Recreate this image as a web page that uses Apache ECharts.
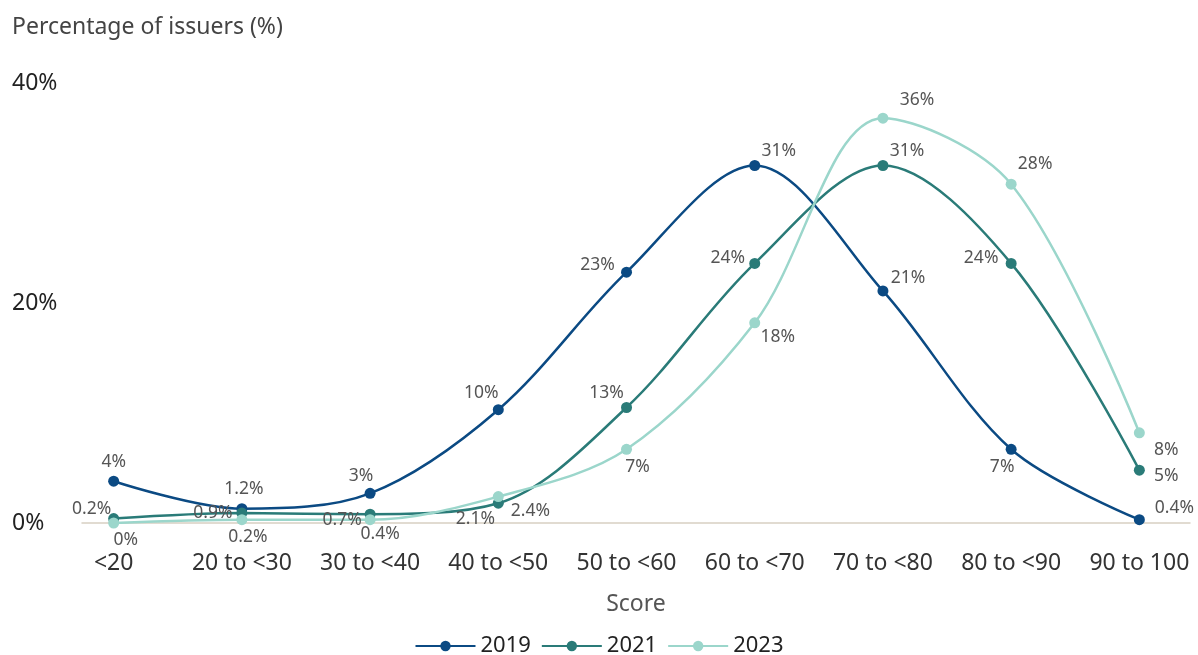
<!DOCTYPE html>
<html>
<head>
<meta charset="utf-8">
<script src="https://cdn.jsdelivr.net/npm/echarts@6/dist/echarts.min.js"></script>
<style>html,body{margin:0;padding:0;background:#fff}#c{width:1198px;height:655px}</style>
</head>
<body>
<div id="c"></div>
<script>
const categories = ['<20', '20 to <30', '30 to <40', '40 to <50', '50 to <60', '60 to <70', '70 to <80', '80 to <90', '90 to 100'];
const years = ['2019', '2021', '2023'];
// plotted values (% of issuers), as drawn
const values2019 = [3.8, 1.3, 2.7, 10.3, 22.8, 32.5, 21.1, 6.7, 0.3];
const values2021 = [0.4, 0.9, 0.8, 1.8, 10.5, 23.6, 32.5, 23.6, 4.8];
const values2023 = [0.0, 0.3, 0.3, 2.4, 6.7, 18.2, 36.8, 30.8, 8.2];
// data label texts as printed
const labels2019 = ['4%', '1.2%', '3%', '10%', '23%', '31%', '21%', '7%', '0.4%'];
const labels2021 = ['0.2%', '0.9%', '0.7%', '2.1%', '13%', '24%', '31%', '24%', '5%'];
const labels2023 = ['0%', '0.2%', '0.4%', '2.4%', '7%', '18%', '36%', '28%', '8%'];
const yTicks = [0, 20, 40];

// label offsets (style)
const off2019 = [[0,-19],[2,-20],[-9,-17],[-17,-17],[-29,-7],[24,-14],[25,-13],[-9,18],[35,-12]];
const off2021 = [[-22,-10],[-29,0],[-28,6],[-23,16],[-20,-14],[-27,-5],[24,-14],[-30,-5],[27,6]];
const off2023 = [[12,17],[6,17],[10,14],[32,14],[11,18],[23,14],[34,-18],[24,-20],[27,17]];

const colors = ['#0b4a83', '#2a7b78', '#9bd6cb'];
const FONT = '"Noto Sans", "Open Sans", sans-serif';

function mk(name, vals, labs, offs, color) {
  return {
    name, type: 'line', smooth: 0.33,
    symbol: 'circle', symbolSize: 11,
    lineStyle: { width: 2.5, color },
    itemStyle: { color },
    data: vals.map((v, i) => ({
      value: [i, v],
      label: { show: true, position: 'inside', offset: offs[i], formatter: labs[i],
               color: '#555', fontSize: 17.5, fontFamily: FONT, align: 'center', verticalAlign: 'middle' }
    })),
    z: 3
  };
}

const chart = echarts.init(document.getElementById('c'), null, { renderer: 'canvas' });
chart.setOption({
  animation: false,
  textStyle: { fontFamily: FONT },
  title: { text: 'Percentage of issuers (%)', left: 7, top: 11,
           textStyle: { fontSize: 23, fontWeight: 'normal', color: '#444', fontFamily: FONT } },
  legend: {
    top: 630, left: 'center', itemWidth: 60, itemHeight: 13, itemGap: 10,
    textStyle: { fontSize: 22, color: '#222', fontFamily: FONT },
    data: years
  },
  grid: { left: 82, right: 8, top: 83, bottom: 132 },
  xAxis: {
    type: 'value', min: -0.247, max: 8.395,
    axisLine: { show: true, lineStyle: { color: '#d8cfc2', width: 1.5 } },
    axisTick: { show: false },
    splitLine: { show: false },
    axisLabel: { customValues: categories.map((c, i) => i), formatter: v => categories[Math.round(v)],
                 fontSize: 23, color: '#333', margin: 29, fontFamily: FONT },
    name: 'Score', nameLocation: 'middle', nameGap: 70,
    nameTextStyle: { fontSize: 23, color: '#555', fontFamily: FONT }
  },
  yAxis: {
    type: 'value', min: 0, max: 40, interval: 20,
    axisLine: { show: false }, axisTick: { show: false },
    splitLine: { show: false },
    axisLabel: { formatter: '{value}%', align: 'left', margin: 70, fontSize: 23, color: '#222', fontFamily: FONT }
  },
  series: [
    mk(years[0], values2019, labels2019, off2019, colors[0]),
    mk(years[1], values2021, labels2021, off2021, colors[1]),
    mk(years[2], values2023, labels2023, off2023, colors[2])
  ]
});
</script>
</body>
</html>
